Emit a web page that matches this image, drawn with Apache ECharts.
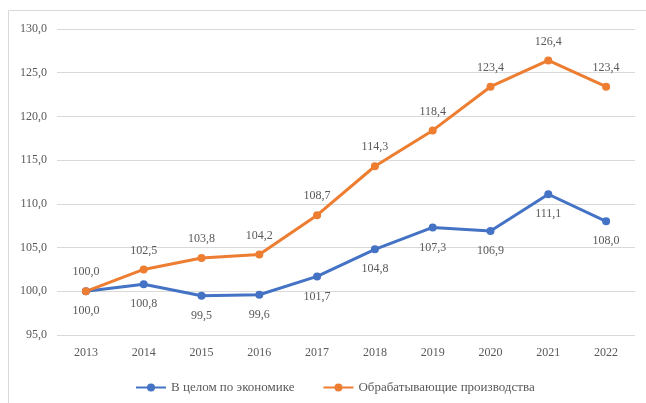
<!DOCTYPE html>
<html><head><meta charset="utf-8">
<script src="https://cdn.jsdelivr.net/npm/echarts@6/dist/echarts.min.js"></script>
<style>html,body{margin:0;padding:0;background:#fff}#c{width:646px;height:403px}</style>
</head><body><div id="c"></div>
<script>
const categories = ['2013','2014','2015','2016','2017','2018','2019','2020','2021','2022'];
const economyName = 'В целом по экономике';
const manufName = 'Обрабатывающие производства';
const economy = [100.0,100.8,99.5,99.6,101.7,104.8,107.3,106.9,111.1,108.0];
const manuf = [100.0,102.5,103.8,104.2,108.7,114.3,118.4,123.4,126.4,123.4];

const fmt = v => Number(v).toFixed(1).replace('.', ',');
const font = 'Liberation Serif';
const txt = '#595959';
const chart = echarts.init(document.getElementById('c'), null, {renderer:'canvas'});
chart.setOption({
  animation:false,
  backgroundColor:'#fff',
  graphic:[{type:'rect',shape:{x:8.5,y:10.5,width:660,height:420},style:{fill:'none',stroke:'#d9d9d9',lineWidth:1},silent:true,z:-1}],
  grid:{left:57,right:11,top:29,bottom:68},
  legend:{
    bottom:4,left:130,itemWidth:30,itemHeight:10,itemGap:28,
    textStyle:{fontFamily:font,fontSize:13,color:txt},
    data:[economyName,manufName]
  },
  xAxis:{type:'category',data:categories,boundaryGap:true,
    axisLine:{show:false},axisTick:{show:false},
    axisLabel:{fontFamily:font,fontSize:12,color:txt,margin:12}},
  yAxis:{type:'value',min:95,max:130,interval:5,
    axisLine:{show:false},axisTick:{show:false},
    splitLine:{lineStyle:{color:'#d9d9d9',width:1}},
    axisLabel:{fontFamily:font,fontSize:12,color:txt,margin:10,formatter:fmt}},
  series:[
    {name:economyName,type:'line',data:economy,symbol:'circle',symbolSize:8,
     itemStyle:{color:'#4472C4'},lineStyle:{width:3,color:'#4472C4'},
     label:{show:true,position:'bottom',distance:10,fontFamily:font,fontSize:12,color:txt,formatter:p=>fmt(p.value)}},
    {name:manufName,type:'line',data:manuf,symbol:'circle',symbolSize:8,
     itemStyle:{color:'#ED7D31'},lineStyle:{width:3,color:'#ED7D31'},
     label:{show:true,position:'top',distance:9,fontFamily:font,fontSize:12,color:txt,formatter:p=>fmt(p.value)}}
  ]
});
</script></body></html>
